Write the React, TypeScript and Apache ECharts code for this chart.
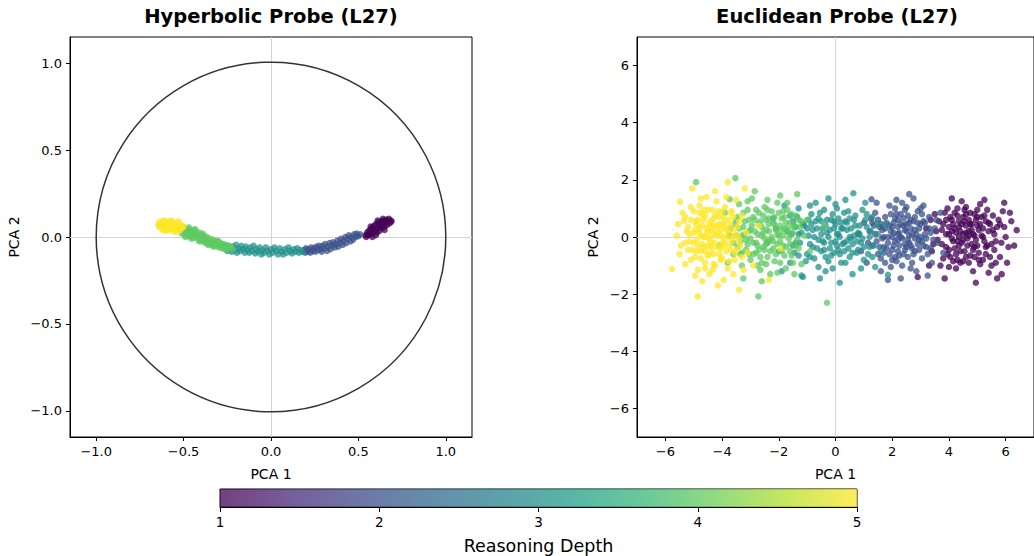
import React, { useEffect, useRef } from "react";
import * as echarts from "echarts";

const depthLevels = [1, 2, 3, 4, 5];
const depthColors = ["#440154", "#3b528b", "#21918c", "#5ec962", "#fde725"];
const viridisStops = ["#440154", "#482878", "#3e4989", "#31688e", "#26828e", "#1f9e89", "#35b779", "#6ece58", "#b5de2b", "#fde725"];
const hypTicks = [-1, -0.5, 0, 0.5, 1];
const eucTicks = [-6, -4, -2, 0, 2, 4, 6];
const cbarTicks = [1, 2, 3, 4, 5];
const titles = ["Hyperbolic Probe (L27)", "Euclidean Probe (L27)"];

const hypDepth1 = [[0.54,0.01],[0.545,0.0],[0.55,0.025],[0.555,0.01],[0.56,0.035],[0.565,0.015],[0.57,0.045],[0.575,0.02],[0.58,0.055],[0.585,0.03],[0.59,0.065],[0.595,0.04],[0.60,0.075],[0.605,0.025],[0.61,0.05],[0.615,0.085],[0.62,0.035],[0.625,0.065],[0.63,0.09],[0.635,0.05],[0.64,0.075],[0.645,0.095],[0.65,0.06],[0.655,0.085],[0.66,0.1],[0.665,0.07],[0.67,0.09],[0.675,0.105],[0.68,0.08],[0.685,0.095],[0.69,0.09],[0.60,0.01],[0.58,0.0],[0.62,0.06],[0.65,0.04],[0.64,0.105],[0.57,0.06],[0.61,0.095]];
const hypDepth2 = [[0.19,-0.075],[0.195,-0.09],[0.20,-0.065],[0.21,-0.085],[0.215,-0.07],[0.225,-0.09],[0.23,-0.06],[0.24,-0.08],[0.245,-0.065],[0.255,-0.085],[0.26,-0.055],[0.27,-0.075],[0.275,-0.05],[0.285,-0.07],[0.29,-0.085],[0.295,-0.05],[0.305,-0.065],[0.31,-0.04],[0.32,-0.08],[0.325,-0.055],[0.335,-0.035],[0.34,-0.07],[0.35,-0.05],[0.355,-0.03],[0.365,-0.06],[0.37,-0.04],[0.38,-0.02],[0.385,-0.055],[0.395,-0.035],[0.40,-0.01],[0.41,-0.045],[0.415,-0.02],[0.425,0.0],[0.43,-0.035],[0.44,-0.01],[0.445,0.01],[0.455,-0.025],[0.46,0.0],[0.47,-0.015],[0.475,0.015],[0.485,0.0],[0.49,0.02],[0.50,0.005],[0.51,0.015]];
const hypDepth3 = [[-0.27,-0.045],[-0.26,-0.065],[-0.25,-0.08],[-0.245,-0.05],[-0.235,-0.07],[-0.225,-0.085],[-0.22,-0.055],[-0.21,-0.075],[-0.20,-0.045],[-0.195,-0.09],[-0.185,-0.065],[-0.175,-0.08],[-0.17,-0.05],[-0.16,-0.07],[-0.15,-0.09],[-0.145,-0.055],[-0.135,-0.075],[-0.125,-0.09],[-0.12,-0.06],[-0.11,-0.08],[-0.10,-0.05],[-0.09,-0.095],[-0.085,-0.07],[-0.075,-0.085],[-0.065,-0.06],[-0.055,-0.1],[-0.05,-0.075],[-0.04,-0.09],[-0.03,-0.06],[-0.02,-0.08],[-0.01,-0.1],[0.0,-0.07],[0.01,-0.09],[0.02,-0.06],[0.03,-0.08],[0.04,-0.1],[0.05,-0.065],[0.06,-0.085],[0.07,-0.1],[0.08,-0.07],[0.09,-0.09],[0.10,-0.06],[0.11,-0.08],[0.12,-0.095],[0.13,-0.07],[0.14,-0.085],[0.15,-0.065],[0.16,-0.09],[0.17,-0.075],[0.18,-0.085]];
const hypDepth4 = [[-0.515,0.045],[-0.51,0.02],[-0.505,0.035],[-0.50,0.05],[-0.495,0.015],[-0.49,0.04],[-0.485,0.025],[-0.48,0.005],[-0.475,0.045],[-0.47,0.02],[-0.465,0.035],[-0.46,0.0],[-0.455,0.03],[-0.45,0.015],[-0.445,0.04],[-0.44,-0.005],[-0.435,0.02],[-0.43,0.035],[-0.425,0.0],[-0.42,0.015],[-0.415,-0.015],[-0.41,0.025],[-0.405,0.005],[-0.40,-0.02],[-0.395,0.01],[-0.39,-0.01],[-0.385,-0.03],[-0.38,0.005],[-0.375,-0.015],[-0.37,-0.035],[-0.365,0.0],[-0.36,-0.02],[-0.355,-0.04],[-0.35,-0.01],[-0.345,-0.03],[-0.34,-0.045],[-0.335,-0.015],[-0.33,-0.035],[-0.325,-0.05],[-0.32,-0.02],[-0.315,-0.04],[-0.31,-0.055],[-0.305,-0.025],[-0.30,-0.045],[-0.295,-0.06],[-0.29,-0.035],[-0.285,-0.05],[-0.28,-0.065],[-0.275,-0.04],[-0.27,-0.055],[-0.265,-0.07],[-0.26,-0.045],[-0.255,-0.06],[-0.25,-0.075],[-0.245,-0.05],[-0.24,-0.065],[-0.23,-0.055],[-0.22,-0.07],
  [-0.505,0.06],[-0.49,0.0],[-0.47,0.055],[-0.455,-0.01],[-0.435,0.045],[-0.41,-0.025],[-0.39,0.02],[-0.36,-0.045],[-0.33,-0.055],[-0.30,-0.025]];
const hypDepth5 = [[-0.645,0.07],[-0.64,0.085],[-0.635,0.055],[-0.63,0.075],[-0.625,0.09],[-0.62,0.06],[-0.615,0.08],[-0.61,0.045],[-0.605,0.07],[-0.60,0.09],[-0.595,0.055],[-0.59,0.08],[-0.585,0.04],[-0.58,0.065],[-0.575,0.09],[-0.57,0.05],[-0.565,0.075],[-0.56,0.035],[-0.555,0.06],[-0.55,0.085],[-0.545,0.045],[-0.54,0.07],[-0.535,0.03],[-0.53,0.055],[-0.525,0.08],[-0.52,0.04],[-0.515,0.065],[-0.51,0.05],[-0.60,0.035],[-0.62,0.04],[-0.64,0.06],[-0.57,0.095],[-0.55,0.03],[-0.53,0.09],[-0.59,0.065],[-0.61,0.095],[-0.56,0.06],[-0.50,0.06]];

const eucDepth1 = [[2.9,-1.4],[6.39,0.24],[5.86,-1.3],[3.2,0.3],[3.4,-0.5],[3.5,0.8],[3.6,-0.1],[3.7,-1.0],[3.8,0.45],[3.9,-0.35],[3.95,1.0],[4.0,0.1],[4.05,-0.7],[4.1,0.6],[4.15,-0.15],[4.2,0.3],[4.25,-1.1],[4.3,0.75],[4.35,0.0],[4.4,-0.5],[4.45,0.45],[4.5,-0.85],[4.55,0.95],[4.6,0.15],[4.65,-0.3],[4.7,0.6],[4.75,-0.65],[4.8,0.25],[4.85,-1.2],[4.9,0.8],[4.95,-0.1],[5.0,0.4],[5.05,-0.55],[5.1,1.15],[5.15,0.05],[5.2,-0.8],[5.3,0.55],[5.35,-0.3],[5.4,0.2],[5.5,-1.0],[5.55,0.75],[5.6,-0.45],[5.7,0.35],[5.8,-0.7],[5.9,0.9],[6.0,0.0],[6.1,-0.35],[6.2,0.55],[5.25,1.3],[4.45,1.25],[3.85,-1.45],[5.7,-1.45],[4.95,-1.6],[4.1,1.35],[3.3,-1.0],[4.0,0.35],[4.5,0.1],[4.8,-0.25],[5.95,1.2],[6.05,-0.9],
  [3.65,0.55],[3.75,-0.25],[3.85,0.85],[3.9,0.1],[3.95,-0.6],[4.05,0.7],[4.1,-0.05],[4.15,0.45],[4.2,-0.4],[4.25,0.15],[4.3,-0.8],[4.35,0.55],[4.4,0.2],[4.45,-0.2],[4.5,0.7],[4.55,-0.5],[4.6,0.4],[4.65,-0.05],[4.7,-0.9],[4.75,0.85],[4.8,0.45],[4.85,-0.45],[4.9,0.05],[4.95,0.6],[5.0,-0.3],[5.05,0.25],[5.1,-0.95],[5.15,0.7],[5.2,0.3],[5.25,-0.15],[5.3,-0.6],[5.35,0.95],[5.45,0.45],[5.5,-0.25],[5.6,0.1],[5.65,-0.9],[5.75,0.6],[5.85,-0.2],[5.95,0.35],[6.15,0.85],[3.55,0.2],[3.45,-0.25],[4.0,-1.05],[4.6,1.05],[5.4,-1.25],[4.3,1.0],[5.0,0.95],[4.35,-0.3],[4.7,0.2],[4.9,-0.7],[6.3,-0.3],[3.35,0.6],
  [3.75,0.25],[3.8,-0.75],[3.9,0.6],[4.0,-0.45],[4.1,0.2],[4.2,0.85],[4.25,-0.6],[4.35,0.35],[4.4,-0.9],[4.5,-0.1],[4.55,0.55],[4.6,-0.7],[4.7,0.05],[4.75,0.45],[4.85,0.1],[4.9,-0.35],[5.0,0.7],[5.05,-0.8],[5.1,0.45],[5.2,0.0],[5.25,0.75],[5.3,-0.35],[5.4,0.5],[5.45,-0.7],[5.55,0.25],[5.65,-0.15],[5.8,0.45],[4.3,-0.15],[4.6,0.8],[4.15,-0.85]];
const eucDepth2 = [[1.27,1.32],[0.8,0.1],[0.9,-0.5],[1.0,0.5],[1.1,-0.9],[1.2,0.2],[1.3,-0.3],[1.4,0.85],[1.5,-0.6],[1.55,0.35],[1.6,-1.2],[1.7,0.0],[1.75,0.7],[1.8,-0.4],[1.9,1.1],[1.95,0.2],[2.0,-0.8],[2.05,0.5],[2.1,-0.15],[2.15,1.3],[2.2,-0.5],[2.25,0.15],[2.3,0.8],[2.35,-1.0],[2.4,0.4],[2.45,-0.25],[2.5,1.05],[2.55,-0.7],[2.6,0.05],[2.65,0.6],[2.7,-0.4],[2.75,1.35],[2.8,0.25],[2.85,-1.2],[2.9,0.9],[2.95,-0.1],[3.0,0.45],[3.05,-0.75],[3.1,1.1],[3.15,0.1],[3.2,-0.35],[3.3,0.7],[3.4,-0.9],[3.5,0.3],[3.6,-0.2],[3.7,0.85],[3.8,-0.55],[2.3,-1.45],[1.85,-1.5],[2.6,1.5],[3.25,-1.35],[1.45,1.2],[2.45,0.95],[2.0,0.0],[2.8,-0.05],[2.2,0.6],[1.65,-0.05],[3.35,0.15],
  [1.35,0.4],[1.45,-0.15],[1.5,0.6],[1.6,-0.75],[1.65,0.25],[1.7,-0.35],[1.8,0.5],[1.85,0.0],[1.9,-0.6],[1.95,0.8],[2.0,0.35],[2.05,-0.3],[2.1,0.65],[2.15,-0.85],[2.2,0.1],[2.25,-0.3],[2.3,0.45],[2.35,-0.05],[2.4,-0.6],[2.45,0.25],[2.5,-0.35],[2.55,0.75],[2.6,-0.2],[2.65,0.3],[2.7,-0.9],[2.75,0.55],[2.8,-0.5],[2.85,0.1],[2.9,0.5],[2.95,-0.45],[3.0,0.0],[3.05,0.8],[3.1,-0.3],[3.15,0.5],[3.25,-0.6],[3.3,0.3],[3.45,-0.1],[3.55,0.6],[1.15,-0.2],[1.25,0.65],[2.1,1.0],[2.5,0.45],[1.95,-1.05],[2.65,-1.1],[3.0,1.0],[2.35,1.2],[1.75,-0.9],[2.2,-0.1],
  [1.4,0.1],[1.55,-0.35],[1.6,0.45],[1.7,-0.55],[1.75,0.3],[1.85,-0.2],[1.9,0.4],[2.0,-0.45],[2.05,0.15],[2.1,-0.7],[2.2,0.35],[2.25,-0.65],[2.3,0.0],[2.4,0.65],[2.45,-0.45],[2.5,0.2],[2.55,-0.1],[2.6,0.5],[2.7,0.1],[2.75,-0.6],[2.8,0.7],[2.9,-0.25],[2.95,0.3],[3.05,-0.15],[3.1,0.55],[3.2,-0.05],[3.35,-0.4],[1.3,0.5],[2.15,0.8],[2.65,-0.3]];
const eucDepth3 = [[0.63,1.53],[1.85,-1.32],[-2.4,-0.2],[-2.2,0.65],[-2.0,-0.5],[-1.8,1.1],[-1.7,0.2],[-1.6,-0.9],[-1.5,0.55],[-1.4,-0.2],[-1.3,1.0],[-1.2,-1.35],[-1.1,0.4],[-1.0,-0.6],[-0.95,0.05],[-0.85,0.8],[-0.8,-0.35],[-0.7,1.2],[-0.65,0.3],[-0.6,-1.05],[-0.5,0.55],[-0.45,-0.15],[-0.4,0.95],[-0.35,-0.7],[-0.3,0.15],[-0.2,-0.4],[-0.15,0.6],[-0.1,-1.1],[-0.05,0.3],[0.0,-0.15],[0.05,1.0],[0.1,0.1],[0.15,-0.6],[0.2,0.5],[0.25,-0.25],[0.3,0.85],[0.35,-0.9],[0.4,0.25],[0.45,-0.4],[0.5,0.65],[0.55,-0.05],[0.6,-1.3],[0.7,0.4],[0.75,-0.55],[0.8,0.15],[0.9,-0.2],[0.95,0.95],[1.0,-0.8],[1.1,0.35],[1.2,-0.35],[1.3,0.7],[1.4,-1.05],[1.5,0.1],[1.6,-0.5],[1.75,0.45],[-0.25,1.35],[-1.15,-1.4],[0.35,1.3],[-0.55,-1.45],[1.05,1.2],[-1.9,-1.2],[0.15,-1.6],[-1.3,0.1],[0.65,0.05],
  [-1.55,0.1],[-1.45,-0.55],[-1.35,0.7],[-1.25,-0.2],[-1.15,0.45],[-1.05,-0.85],[-0.95,0.6],[-0.9,-0.25],[-0.8,0.25],[-0.75,-0.75],[-0.7,0.55],[-0.6,-0.1],[-0.55,0.85],[-0.5,-0.5],[-0.45,0.3],[-0.4,-0.2],[-0.3,0.6],[-0.25,-0.85],[-0.2,0.25],[-0.15,-0.2],[-0.1,0.8],[-0.05,-0.55],[0.0,0.45],[0.05,-0.3],[0.1,0.65],[0.15,0.0],[0.2,-0.9],[0.25,0.3],[0.3,-0.5],[0.35,0.55],[0.4,-0.15],[0.45,0.9],[0.5,-0.7],[0.55,0.3],[0.6,-0.25],[0.7,0.75],[0.8,-0.45],[0.85,0.4],[0.95,-0.05],[1.05,0.6],[1.15,-0.6],[1.25,0.2],[1.35,-0.3],[1.45,0.45],[-1.6,0.75],[-2.1,0.3],[-0.9,1.1],[0.0,1.15],[0.9,-1.1],[-0.35,-1.2],
  [-1.5,-0.3],[-1.4,0.35],[-1.3,-0.65],[-1.2,0.15],[-1.0,0.3],[-0.9,-0.7],[-0.85,0.45],[-0.75,0.0],[-0.65,-0.4],[-0.6,0.65],[-0.5,0.1],[-0.4,-0.45],[-0.35,0.4],[-0.25,0.0],[-0.15,-0.65],[-0.05,0.55],[0.05,0.1],[0.1,-0.45],[0.2,0.3],[0.3,-0.2],[0.4,0.5],[0.5,0.0],[0.6,-0.55],[0.65,0.6],[0.75,-0.15],[0.85,0.1],[1.0,-0.35],[1.1,0.8],[1.2,0.0],[1.3,-0.7]];
const eucDepth4 = [[-4.92,1.92],[-3.53,2.06],[-2.72,-2.08],[-1.35,1.5],[-0.3,-2.3],[-3.73,1.32],[-3.9,0.85],[-3.7,0.3],[-3.6,-0.6],[-3.5,0.05],[-3.4,1.15],[-3.35,-0.15],[-3.3,-1.0],[-3.2,0.55],[-3.15,-0.45],[-3.1,0.95],[-3.05,0.2],[-3.0,-0.8],[-2.95,1.35],[-2.9,-0.2],[-2.85,0.6],[-2.8,-0.55],[-2.75,0.1],[-2.7,0.85],[-2.65,-1.15],[-2.6,0.35],[-2.55,-0.35],[-2.5,1.05],[-2.5,-0.05],[-2.45,0.6],[-2.4,-0.7],[-2.35,0.2],[-2.3,-1.3],[-2.25,0.9],[-2.2,-0.15],[-2.15,0.45],[-2.1,-0.6],[-2.05,1.2],[-2.0,0.05],[-1.95,-0.9],[-1.9,0.65],[-1.85,-0.3],[-1.8,0.3],[-1.75,-1.1],[-1.7,0.95],[-1.65,-0.05],[-1.6,0.5],[-1.55,-0.65],[-1.5,0.15],[-1.45,-1.3],[-1.4,0.75],[-1.3,-0.4],[-1.25,0.35],[-1.2,-0.95],[-1.1,0.05],[-1.0,0.6],[-0.9,-0.5],[-3.25,-1.45],[-2.85,1.6],[-2.6,-1.55],[-1.95,1.45],[-4.1,-0.3],[-3.8,-0.9],[-0.4,0.4],[-2.45,-0.95],[-3.45,0.7],
  [-3.55,0.45],[-3.45,-0.35],[-3.4,0.3],[-3.3,-0.55],[-3.25,0.85],[-3.2,0.1],[-3.1,-0.25],[-3.05,0.6],[-3.0,-0.05],[-2.95,0.4],[-2.9,-0.6],[-2.85,0.2],[-2.8,0.95],[-2.75,-0.3],[-2.7,0.45],[-2.65,-0.7],[-2.6,0.05],[-2.55,0.75],[-2.5,-0.45],[-2.45,0.25],[-2.4,-0.15],[-2.35,0.65],[-2.3,-0.5],[-2.25,0.0],[-2.2,0.5],[-2.15,-0.85],[-2.1,0.25],[-2.05,-0.25],[-2.0,0.85],[-1.95,0.4],[-1.9,-0.5],[-1.85,0.05],[-1.8,0.7],[-1.75,-0.35],[-1.7,0.3],[-1.6,-0.25],[-1.55,0.8],[-1.5,-0.9],[-1.45,0.4],[-1.35,-0.1],[-1.2,0.55],[-3.6,-0.2],[-3.75,0.05],[-2.4,1.3],[-2.05,-1.25],[-3.1,1.25],[-1.7,1.2],[-2.75,-1.0],
  [-3.5,0.6],[-3.35,-0.6],[-3.25,0.35],[-3.15,-0.1],[-3.0,0.25],[-2.9,0.7],[-2.8,-0.2],[-2.7,-0.45],[-2.65,0.55],[-2.55,0.15],[-2.45,-0.25],[-2.35,0.45],[-2.3,-0.1],[-2.2,-0.4],[-2.15,0.7],[-2.05,0.1],[-1.95,-0.15],[-1.9,0.25],[-1.8,-0.65],[-1.75,0.5],[-1.65,0.15],[-1.6,-0.5],[-1.5,0.35],[-1.4,-0.3],[-1.3,0.6],[-2.6,-0.9],[-3.05,-0.6],[-2.4,0.95],[-1.85,0.9],[-3.3,0.05]];
const eucDepth5 = [[-5.77,-1.12],[-4.86,-2.08],[-3.8,1.92],[-5.48,1.23],[-5.3,0.7],[-5.35,0.55],[-5.6,0.05],[-5.45,-0.3],[-5.2,-0.45],[-5.1,-0.8],[-5.0,0.9],[-4.95,0.25],[-4.9,-0.1],[-4.85,0.6],[-4.8,1.1],[-4.75,-0.5],[-4.7,0.4],[-4.65,0.0],[-4.6,-0.9],[-4.6,0.75],[-4.55,1.4],[-4.5,-0.3],[-4.5,0.2],[-4.45,-1.3],[-4.4,0.55],[-4.4,-0.15],[-4.35,0.95],[-4.3,0.1],[-4.3,-0.6],[-4.25,-1.0],[-4.2,0.35],[-4.2,1.25],[-4.15,-0.35],[-4.1,0.7],[-4.05,0.05],[-4.0,-0.75],[-4.0,0.45],[-3.95,-1.5],[-3.9,1.05],[-3.9,-0.2],[-3.85,0.25],[-3.8,-1.1],[-3.75,0.6],[-3.7,-0.45],[-3.65,0.9],[-3.6,0.0],[-3.55,-0.8],[-3.5,1.3],[-3.45,0.35],[-3.4,-1.85],[-3.35,-0.3],[-3.3,0.75],[-3.25,-1.15],[-3.15,0.15],[-3.1,-0.55],[-4.7,-1.55],[-5.05,1.7],[-4.25,1.6],[-4.85,-1.15],[-4.15,-1.7],[-5.25,0.2],[-4.65,0.95],[-4.45,-0.6],[-3.95,0.0],[-4.05,-0.4],[-4.8,0.15],[-2.9,-1.0],[-2.7,0.4],[-2.35,-1.5],[-3.2,1.7],[-1.95,-0.4],
  [-5.2,0.35],[-5.15,-0.15],[-5.1,0.6],[-5.05,-0.45],[-5.0,0.15],[-4.95,-0.7],[-4.9,0.45],[-4.85,-0.3],[-4.8,0.85],[-4.75,0.05],[-4.7,-0.25],[-4.65,0.6],[-4.6,-0.5],[-4.55,0.3],[-4.5,0.95],[-4.45,-0.05],[-4.4,0.35],[-4.35,-0.4],[-4.3,0.65],[-4.25,-0.2],[-4.2,0.05],[-4.15,0.9],[-4.1,-0.6],[-4.05,0.25],[-4.0,-0.2],[-3.95,0.7],[-3.9,0.35],[-3.85,-0.5],[-3.8,0.0],[-3.75,-0.85],[-3.7,0.4],[-3.65,-0.15],[-3.6,0.7],[-3.5,-0.45],[-3.45,0.05],[-3.4,0.55],[-3.3,-0.7],[-5.4,0.85],[-5.5,-0.6],[-5.3,-0.95],[-4.75,1.35],[-4.35,-1.15],[-3.85,1.4],[-4.95,-1.35],[-5.55,0.45],[-4.6,0.0],[-4.25,0.4],[-3.6,-1.3],
  [-5.15,0.1],[-5.0,-0.2],[-4.95,0.55],[-4.9,-0.5],[-4.8,0.3],[-4.75,-0.75],[-4.7,0.8],[-4.65,-0.35],[-4.55,0.1],[-4.5,-0.65],[-4.45,0.45],[-4.4,-0.3],[-4.35,0.2],[-4.3,-0.95],[-4.25,0.75],[-4.15,0.15],[-4.1,0.45],[-4.05,-0.8],[-4.0,0.9],[-3.95,-0.3],[-3.9,0.55],[-3.8,0.2],[-3.75,-0.3],[-3.7,0.85],[-3.6,0.2],[-3.55,-0.55],[-3.4,-0.1],[-5.3,-0.2],[-5.1,1.05],[-4.6,-1.1]];

const hypSets = [hypDepth1, hypDepth2, hypDepth3, hypDepth4, hypDepth5];
const eucSets = [eucDepth1, eucDepth2, eucDepth3, eucDepth4, eucDepth5];

const FONT = "DejaVu Sans";
const minus = (s: string) => s.replace("-", "\u2212");

function buildOption() {
  const axisCommon = (ticks: number[], fmt: (v: number) => string) => ({
    type: "value",
    axisLine: { show: true, onZero: false, lineStyle: { color: "#000", width: 1 } },
    axisTick: { show: true, inside: false, length: 4, customValues: ticks, lineStyle: { color: "#000", width: 1 } },
    axisLabel: { show: true, customValues: ticks, formatter: fmt, fontFamily: FONT, fontSize: 13, color: "#000", margin: 8 },
    splitLine: { show: false },
    nameTextStyle: { fontFamily: FONT, fontSize: 14, color: "#000" },
    nameLocation: "middle",
  });
  const hypFmt = (v: number) => minus(v.toFixed(1));
  const eucFmt = (v: number) => minus(String(Math.round(v)));

  const zeroLine = {
    silent: true,
    symbol: "none",
    label: { show: false },
    lineStyle: { color: "#d4d4d4", width: 1, type: "solid" },
    data: [{ xAxis: 0 }, { yAxis: 0 }],
    z: 1,
  };

  const series: any[] = [];
  hypSets.forEach((d, i) => {
    series.push({
      type: "scatter",
      name: "hyp" + depthLevels[i],
      xAxisIndex: 0,
      yAxisIndex: 0,
      data: d,
      symbolSize: 6.5,
      itemStyle: { color: depthColors[i], opacity: 0.75 },
      z: 3,
      ...(i === 0 ? { markLine: zeroLine } : {}),
    });
  });
  eucSets.forEach((d, i) => {
    series.push({
      type: "scatter",
      name: "euc" + depthLevels[i],
      xAxisIndex: 1,
      yAxisIndex: 1,
      data: d,
      symbolSize: 6.5,
      itemStyle: { color: depthColors[i], opacity: 0.75 },
      z: 3,
      ...(i === 0 ? { markLine: zeroLine } : {}),
    });
  });
  // unit circle (Poincare disk boundary)
  series.push({
    type: "custom",
    xAxisIndex: 0,
    yAxisIndex: 0,
    data: [[0, 0, 1]],
    silent: true,
    z: 2,
    renderItem: (params: any, api: any) => {
      const c = api.coord([api.value(0), api.value(1)]);
      const e = api.coord([api.value(0) + api.value(2), api.value(1)]);
      return {
        type: "circle",
        shape: { cx: c[0], cy: c[1], r: e[0] - c[0] },
        style: { fill: "none", stroke: "#333", lineWidth: 1.5 },
      };
    },
  });
  // colorbar
  series.push({
    type: "custom",
    xAxisIndex: 2,
    yAxisIndex: 2,
    data: [[cbarTicks[0], cbarTicks[cbarTicks.length - 1]]],
    silent: true,
    renderItem: (params: any, api: any) => {
      const a = api.coord([api.value(0), 1]);
      const b = api.coord([api.value(1), 0]);
      return {
        type: "rect",
        shape: { x: a[0], y: a[1], width: b[0] - a[0], height: b[1] - a[1] },
        style: {
          fill: new echarts.graphic.LinearGradient(0, 0, 1, 0,
            viridisStops.map((c, k) => ({ offset: k / (viridisStops.length - 1), color: c }))),
          opacity: 0.75,
        },
      };
    },
  });

  const titleStyle = { fontFamily: FONT, fontSize: 19.5, fontWeight: "bold", color: "#000" };
  return {
    animation: false,
    backgroundColor: "#fff",
    title: [
      { text: titles[0], left: 271, top: 6, textAlign: "center", padding: 0, textStyle: titleStyle },
      { text: titles[1], left: 837, top: 6, textAlign: "center", padding: 0, textStyle: titleStyle },
    ],
    grid: [
      { left: 70, top: 37, width: 402, height: 400, show: true, borderColor: "#000", borderWidth: 1, backgroundColor: "transparent" },
      { left: 637, top: 37, width: 400, height: 400, show: true, borderColor: "#000", borderWidth: 1, backgroundColor: "transparent" },
      { left: 220, top: 489, width: 637, height: 19, show: true, borderColor: "#000", borderWidth: 1, backgroundColor: "transparent" },
    ],
    xAxis: [
      { ...axisCommon(hypTicks, hypFmt), gridIndex: 0, min: -1.15, max: 1.15, name: "PCA 1", nameGap: 30 },
      { ...axisCommon(eucTicks, eucFmt), gridIndex: 1, min: -7, max: 7, name: "PCA 1", nameGap: 30 },
      {
        type: "value", gridIndex: 2, min: 1, max: 5, interval: 1,
        axisLine: { show: true, onZero: false, lineStyle: { color: "#000" } },
        axisTick: { show: true, length: 5, lineStyle: { color: "#000" } },
        axisLabel: { fontFamily: FONT, fontSize: 13.5, color: "#000", margin: 8, formatter: (v: number) => String(v) },
        splitLine: { show: false },
        name: "Reasoning Depth", nameLocation: "middle", nameGap: 30,
        nameTextStyle: { fontFamily: FONT, fontSize: 17.5, color: "#000" },
      },
    ],
    yAxis: [
      { ...axisCommon(hypTicks, hypFmt), gridIndex: 0, min: -1.15, max: 1.15, name: "PCA 2", nameGap: 49 },
      { ...axisCommon(eucTicks, eucFmt), gridIndex: 1, min: -7, max: 7, name: "PCA 2", nameGap: 37 },
      { type: "value", gridIndex: 2, min: 0, max: 1, show: false },
    ],
    series,
  };
}

export default function App() {
  const ref = useRef<HTMLDivElement>(null);
  useEffect(() => {
    if (!ref.current) return;
    const chart = echarts.init(ref.current, null, { renderer: "svg" });
    chart.setOption(buildOption() as any);
    return () => chart.dispose();
  }, []);
  return <div ref={ref} style={{ position: "absolute", left: 0, top: 0, width: 1034, height: 556 }} />;
}
